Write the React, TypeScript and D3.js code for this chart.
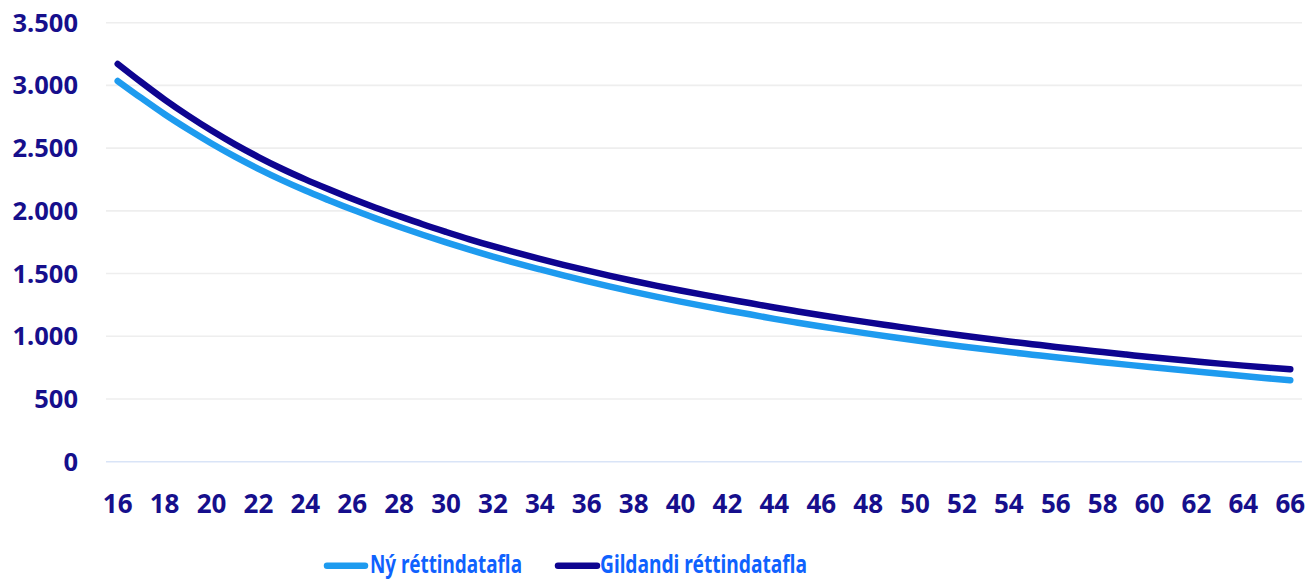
import React from "react";
import * as d3 from "d3";

const ages: number[] = d3.range(16, 67);
const nyValues: number[] = [
  3035, 2900, 2770, 2650, 2537, 2432, 2335, 2245, 2162, 2085,
  2010, 1940, 1873, 1809, 1748, 1690, 1635, 1583, 1534, 1486,
  1440, 1396, 1354, 1314, 1276, 1240, 1206, 1173, 1139, 1108,
  1078, 1049, 1021, 994, 968, 943, 919, 896, 874, 853,
  832, 812, 793, 774, 755, 737, 719, 701, 683, 666, 649,
];
const gildandiValues: number[] = [
  3171, 3026, 2887, 2759, 2640, 2530, 2429, 2336, 2251, 2172,
  2096, 2025, 1958, 1893, 1832, 1773, 1718, 1666, 1617, 1570,
  1525, 1482, 1441, 1402, 1365, 1330, 1296, 1263, 1229, 1198,
  1168, 1139, 1111, 1084, 1057, 1031, 1006, 982, 959, 937,
  915, 894, 874, 854, 834, 816, 799, 782, 766, 751, 737,
];
const yTicks: number[] = [0, 500, 1000, 1500, 2000, 2500, 3000, 3500];
const xTickLabels: number[] = d3.range(16, 67, 2);
const seriesNames: string[] = ["Ný réttindatafla", "Gildandi réttindatafla"];

const W = 1311;
const H = 580;
const LIGHT = "#1E9BEF";
const DARK = "#0E0490";
const AXIS_TEXT = "#160F8C";
const LEGEND_TEXT = "#0F62FE";
const FONT = "'Noto Sans', 'Open Sans', sans-serif";

export default function App() {
  const x = d3.scalePoint<number>().domain(ages).range([106, 1302]).padding(0.5);
  const y = d3.scaleLinear().domain([0, 3500]).range([461.7, 22.7]);
  const line = d3
    .line<number>()
    .x((_, i) => x(ages[i]) as number)
    .y((d) => y(d))
    .curve(d3.curveMonotoneX);

  const fmt = (v: number) => d3.format(",")(v).replace(/,/g, ".");

  const legend = [
    { name: seriesNames[0], color: LIGHT, x1: 327, x2: 365, tx: 370, tl: 152 },
    { name: seriesNames[1], color: DARK, x1: 558, x2: 597, tx: 600, tl: 207 },
  ];

  return (
    <svg
      width={W}
      height={H}
      style={{ position: "absolute", left: 0, top: 0, background: "#fff" }}
    >
      {yTicks.map((t) => (
        <line
          key={"g" + t}
          x1={106}
          x2={1302}
          y1={y(t)}
          y2={y(t)}
          stroke={t === 0 ? "#D9E4F7" : "#EEEEEE"}
          strokeWidth={1.6}
        />
      ))}
      {yTicks.map((t) => (
        <text
          key={"yl" + t}
          x={78}
          y={y(t) + 9}
          textAnchor="end"
          fontFamily={FONT}
          fontWeight={700}
          fontSize={25.5}
          fill={AXIS_TEXT}
        >
          {fmt(t)}
        </text>
      ))}
      {xTickLabels.map((a) => (
        <text
          key={"xl" + a}
          x={x(a) as number}
          y={513}
          textAnchor="middle"
          fontFamily={FONT}
          fontWeight={700}
          fontSize={26}
          fill={AXIS_TEXT}
        >
          {a}
        </text>
      ))}
      <path
        d={line(nyValues) || ""}
        fill="none"
        stroke={LIGHT}
        strokeWidth={6.5}
        strokeLinecap="round"
        strokeLinejoin="round"
      />
      <path
        d={line(gildandiValues) || ""}
        fill="none"
        stroke={DARK}
        strokeWidth={6.5}
        strokeLinecap="round"
        strokeLinejoin="round"
      />
      {legend.map((l) => (
        <g key={l.name}>
          <line
            x1={l.x1}
            x2={l.x2}
            y1={565.7}
            y2={565.7}
            stroke={l.color}
            strokeWidth={6.5}
            strokeLinecap="round"
          />
          <text
            x={l.tx}
            y={573}
            fontFamily={FONT}
            fontWeight={700}
            fontSize={25}
            fill={LEGEND_TEXT}
            textLength={l.tl}
            lengthAdjust="spacingAndGlyphs"
          >
            {l.name}
          </text>
        </g>
      ))}
    </svg>
  );
}
